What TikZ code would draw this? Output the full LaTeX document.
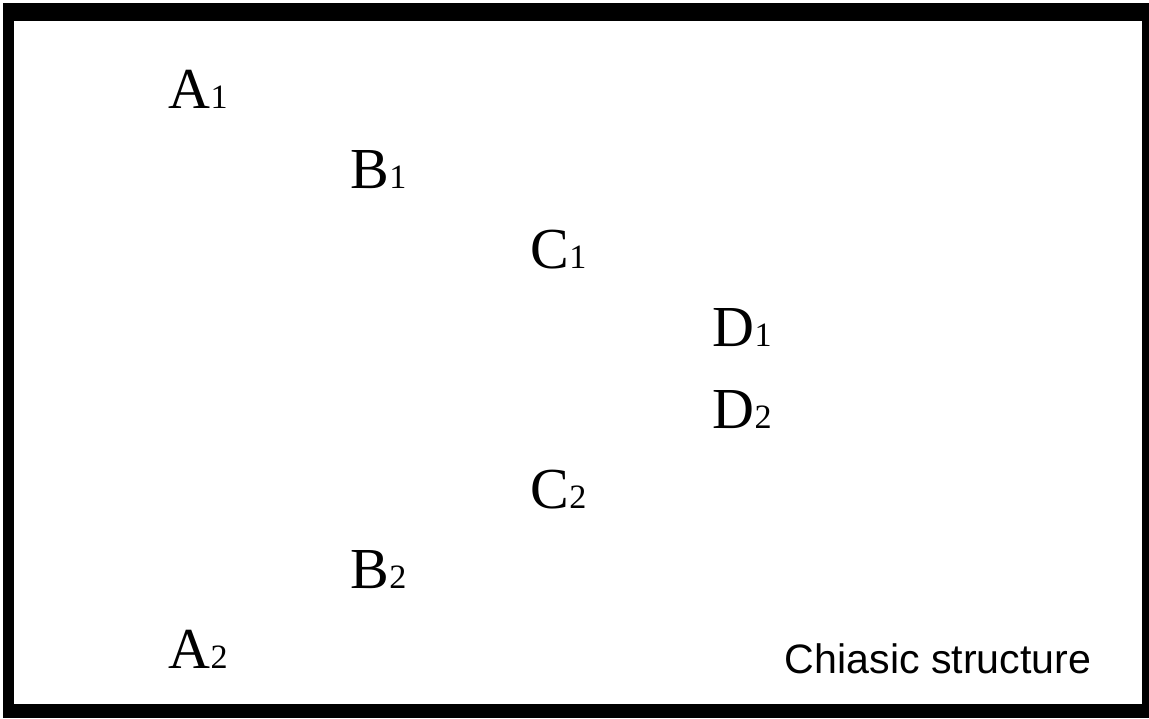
\documentclass[tikz,border=0pt]{standalone}
\usepackage{fontspec}
\setmainfont{Liberation Serif}
\setsansfont{Liberation Sans}
\newcommand{\lbl}[2]{#1{\fontsize{9.7}{10}\selectfont #2}}
\tikzset{
  part/.style={anchor=base west, inner sep=0pt, font=\fontsize{16.5}{18}\selectfont},
  caption/.style={anchor=base east, inner sep=0pt, font=\sffamily\fontsize{11.7}{14}\selectfont}
}
\begin{document}
\begin{tikzpicture}[x=0.01cm, y=-0.01cm]
		\useasboundingbox (0,0) rectangle (1149,718);
		%frame
			\fill[white] (0,0) rectangle (1149,718);
			\fill[black] (3,3) rectangle (1149,718);
			\fill[white] (14,21) rectangle (1142,704);
		%first half
			\node[part] (a1) at (168, 108) {\lbl{A}{1}};
			\node[part] (b1) at (350, 188) {\lbl{B}{1}};
			\node[part] (c1) at (530, 268) {\lbl{C}{1}};
			\node[part] (d1) at (712, 346) {\lbl{D}{1}};
		%second half
			\node[part] (d2) at (712, 428) {\lbl{D}{2}};
			\node[part] (c2) at (530, 508) {\lbl{C}{2}};
			\node[part] (b2) at (350, 588) {\lbl{B}{2}};
			\node[part] (a2) at (168, 668) {\lbl{A}{2}};
			\node[caption] (title) at (1092, 673) {Chiasic structure};
\end{tikzpicture}
\end{document}
